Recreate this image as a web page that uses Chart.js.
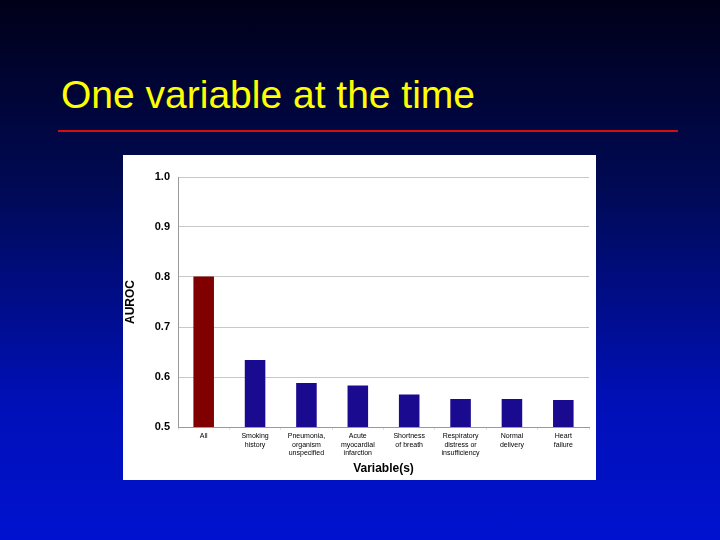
<!DOCTYPE html>
<html><head><meta charset="utf-8">
<script src="https://cdn.jsdelivr.net/npm/chart.js@4"></script>
<style>
html,body{margin:0;padding:0;width:720px;height:540px;overflow:hidden;}
body{background:linear-gradient(to bottom,#000018 0%,#000a55 35%,#0010b8 75%,#0012d0 100%);position:relative;font-family:"Liberation Sans",Arial,sans-serif;}
#title{position:absolute;left:61px;top:72px;color:#ffff00;font-size:39px;line-height:46px;}
#rule{position:absolute;left:58px;top:130px;width:620px;height:2px;background:#d01010;}
#box{position:absolute;left:123px;top:155px;width:473px;height:325px;background:#fff;}
</style></head><body>
<div id="title">One variable at the time</div>
<div id="rule"></div>
<div id="box"><canvas id="c" width="473" height="325"></canvas></div>
<script>
const categories=[["All"],["Smoking","history"],["Pneumonia,","organism","unspecified"],["Acute","myocardial","infarction"],["Shortness","of breath"],["Respiratory","distress or","insufficiency"],["Normal","delivery"],["Heart","failure"]];
const aurocValues=[0.801,0.634,0.588,0.583,0.565,0.556,0.556,0.554];
const barColors=["#800000","#1a0a90","#1a0a90","#1a0a90","#1a0a90","#1a0a90","#1a0a90","#1a0a90"];
const yTicks=[0.5,0.6,0.7,0.8,0.9,1.0];
new Chart(document.getElementById('c'),{
type:'bar',
data:{labels:categories,datasets:[{data:aurocValues,backgroundColor:barColors,barPercentage:0.4,categoryPercentage:1}]},
options:{responsive:false,animation:false,
layout:{padding:{top:22,right:7,left:0,bottom:0}},
plugins:{legend:{display:false},tooltip:{enabled:false}},
scales:{
y:{min:0.5,max:1.0,afterBuildTicks:a=>{a.ticks=yTicks.map(v=>({value:v}));},
afterFit:a=>{a.width=55;},
grid:{color:'#c8c8c8',drawTicks:false},border:{color:'#999'},
ticks:{padding:8,color:'#000',font:{family:'Liberation Sans',size:11,weight:'bold'},callback:v=>v.toFixed(1)},
title:{display:true,text:'AUROC',color:'#000',font:{family:'Liberation Sans',size:12,weight:'bold'},padding:0}},
x:{grid:{display:true,color:'#e0e0e0',drawOnChartArea:false,tickLength:3,offset:true},border:{color:'#999'},
afterFit:a=>{a.height=53;},
ticks:{maxRotation:0,autoSkip:false,padding:2,color:'#000',font:{family:'Liberation Sans',size:7},lineHeight:1.1},
title:{display:true,text:'Variable(s)',color:'#000',font:{family:'Liberation Sans',size:12,weight:'bold'},padding:{top:2}}}
}}});
</script>
</body></html>
